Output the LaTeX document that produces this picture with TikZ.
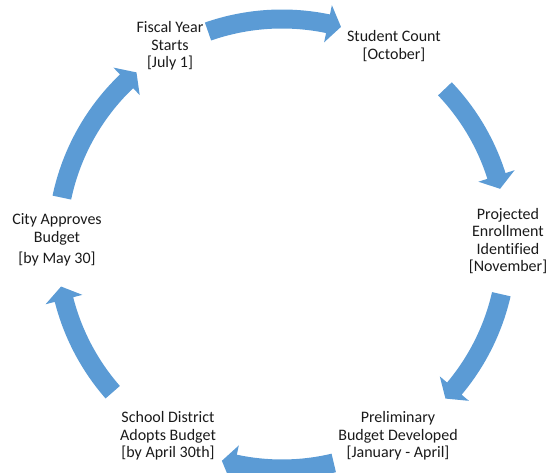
\documentclass[tikz,border=0pt]{standalone}
\usepackage{fontspec}
\setmainfont{Carlito}[Ligatures=NoCommon]
\usetikzlibrary{calc}
\definecolor{cycleblue}{HTML}{5B9BD5}
\definecolor{labelink}{HTML}{1A1A1A}

% curved block arrow on the ring around (C), running clockwise from #1 to #2 (degrees)
\newcommand\ringarrow[2]{%
  \fill[ringfill]
    ([shift={(C)}]#1:234.5pt) arc[start angle=#1, end angle=#2+3.4, radius=234.5pt]
    -- ([shift={(C)}]#2+3.4:244pt)
    -- ([shift={(C)}]#2:225pt)
    -- ([shift={(C)}]#2+3.4:206pt)
    -- ([shift={(C)}]#2+3.4:215.5pt)
    arc[start angle=#2+3.4, end angle=#1, radius=215.5pt]
    -- cycle;}

\begin{document}
\begin{tikzpicture}[x=1pt,y=1pt,
  ringfill/.style={fill=cycleblue},
  stage/.style={align=center, text=labelink, inner sep=0pt,
    font=\fontsize{16}{17.6}\selectfont}]
\useasboundingbox (0,0) rectangle (550,473);
\clip (0,0) rectangle (550,473);
\coordinate (C) at (282,229);

% stages of the budget cycle
\node[stage] (fiscal)   at (170,427) {Fiscal Year\\Starts\\{[July 1]}};
\node[stage] (count)    at (394,427) {Student Count\\{[October]}};
\node[stage] (enroll)   at (508,232) {Projected\\Enrollment\\Identified\\{[November]}};
\node[stage] (prelim)   at (398,37)  {Preliminary\\Budget Developed\\{[January - April]}};
\node[stage] (adopt)    at (168,37)  {School District\\Adopts Budget\\{[by April 30th]}};
\node[stage] (approve)  at (57,233)  {City Approves\\Budget\\[4pt]{[by May 30]}};

% arrows joining consecutive stages
\ringarrow{109.2}{74.8}
\ringarrow{43.6}{14.2}
\ringarrow{-12.9}{-43.4}
\ringarrow{-76.7}{-105.5}
\ringarrow{-138.8}{-169.1}
\ringarrow{168.1}{130.3}
\end{tikzpicture}
\end{document}
